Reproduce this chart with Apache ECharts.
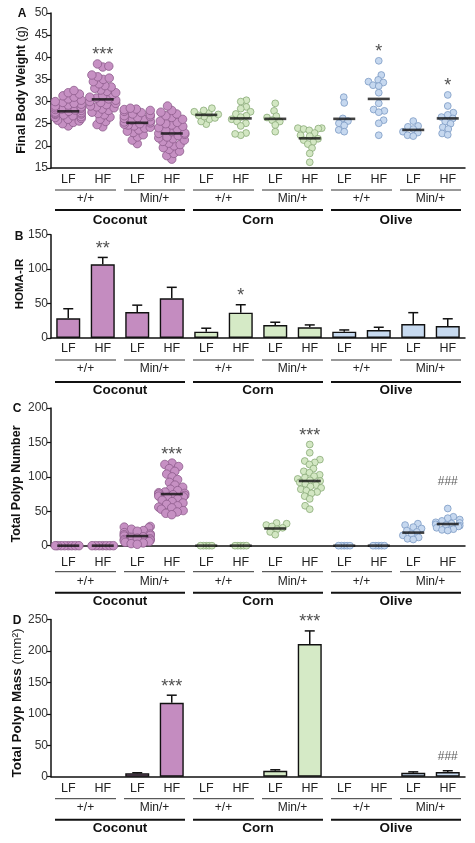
<!DOCTYPE html>
<html><head><meta charset="utf-8">
<script src="https://cdn.jsdelivr.net/npm/echarts@6/dist/echarts.min.js"></script>
<style>html,body{margin:0;padding:0;background:#fff}#c{width:475px;height:843px}</style>
</head><body><div id="c"></div>
<script>
// ---------- categories ----------
const groupCats = ['LF','HF','LF','HF','LF','HF','LF','HF','LF','HF','LF','HF'];
const genotypes = ['+/+','Min/+','+/+','Min/+','+/+','Min/+'];
const diets = ['Coconut','Corn','Olive'];

// ---------- Panel A: Final Body Weight (g), individual mice ----------
const bwCoconutWtLF = [24.5,25.0,25.3,25.6,25.8,26.0,26.2,26.4,26.6,26.8,27.0,27.1,27.2,27.3,27.5,27.6,27.8,28.0,28.1,28.2,28.3,28.5,28.6,28.8,29.0,29.2,29.4,29.6,29.8,30.0,30.3,30.6,31.0,31.3,31.7,32.0,32.5];
const bwCoconutWtHF = [24.3,24.8,25.5,26.0,26.5,27.0,27.3,27.6,28.0,28.3,28.6,28.8,29.0,29.3,29.6,29.8,30.0,30.3,30.6,30.8,31.0,31.3,31.6,32.0,32.3,32.6,33.0,33.3,33.6,34.0,34.5,35.0,35.3,35.6,36.0,37.8,38.0,38.5];
const bwCoconutMinLF = [20.5,21.3,22.0,22.5,23.0,23.3,23.6,24.0,24.2,24.5,24.7,24.9,25.0,25.2,25.4,25.6,25.8,26.0,26.2,26.4,26.6,26.8,27.0,27.2,27.5,27.8,28.0,28.2,28.3,28.5];
const bwCoconutMinHF = [17.0,17.8,18.3,18.8,19.2,19.6,20.0,20.3,20.6,21.0,21.3,21.6,21.8,22.0,22.3,22.6,22.8,22.9,23.2,23.5,23.8,24.1,24.4,24.7,25.0,25.3,25.6,26.0,26.4,26.8,27.2,27.6,28.0,29.0];
const bwCornWtLF = [24.9,25.5,26.0,26.3,26.6,26.9,27.1,27.4,27.7,28.0,28.5];
const bwCornWtHF = [30.3,30.0,28.8,28.4,27.7,27.2,26.8,26.5,26.0,25.5,25.1,24.5,22.9,22.4,22.7];
const bwCornMinLF = [29.6,27.9,26.7,26.4,25.8,25.5,24.7,23.2];
const bwCornMinHF = [24.0,24.0,23.8,23.9,23.5,22.9,22.4,22.2,21.6,21.3,20.9,20.4,19.5,18.3,16.3];
const bwOliveWtLF = [31.0,29.7,26.2,25.6,25.1,24.6,23.6,23.2];
const bwOliveWtHF = [39.2,36.0,34.9,34.5,34.3,33.7,33.5,32.0,29.6,28.2,27.9,27.6,25.8,25.1,22.4];
const bwOliveMinLF = [25.6,24.5,24.3,23.8,23.2,23.0,22.4,22.2];
const bwOliveMinHF = [31.5,29.0,27.5,27.0,26.5,26.2,25.5,25.0,24.2,23.8,22.8,22.5];
const bwMeans = [27.8,30.5,25.2,22.8,27.0,26.2,26.1,21.7,26.1,30.6,23.6,26.2];
const bwAxis = [15, 50, 5];

// ---------- Panel B: HOMA-IR (mean, SEM) ----------
const homaMean = [28.5,107,37.7,57.6,9.2,36.8,18.9,15.5,9.2,11.6,20.3,17.4];
const homaSem  = [14,10,10,16,5,11.5,4,3.5,2.5,4,16.5,10.5];
const homaAxis = [0, 150, 50];

// ---------- Panel C: Total Polyp Number, individual mice ----------
const pnCoconutWtLF = [0,0,0,0,0,0,0,0];
const pnCoconutWtHF = [0,0,0,0,0,0,0];
const pnCoconutMinLF = [28,27,26,24,22,21,19,17,16,15,14,13,12,11,10,9,8,7,6,5,4,3,2];
const pnCoconutMinHF = [120,118,115,112,108,104,100,96,92,88,85,82,80,78,77,76,75,74,73,72,71,70,68,66,64,62,60,58,56,55,53,51,49,47,45];
const pnCornWtLF = [0,0,0,0,0];
const pnCornWtHF = [0,0,0,0,0];
const pnCornMinLF = [33,32,30,28,26,24,20,16];
const pnCornMinHF = [147,135,125,123,121,118,112,108,106,103,101,99,97,95,94,92,90,88,86,84,82,80,78,76,72,68,58,53];
const pnOliveWtLF = [0,0,0,0,0];
const pnOliveWtHF = [0,0,0,0,0];
const pnOliveMinLF = [32,30,27,25,22,20,17,15,12,10,9];
const pnOliveMinHF = [54,42,40,38,36,34,33,32,31,30,29,28,26,24,23,22];
const pnMeans = [0,0,14,75,0,0,25,94,0,0,19,31.5];
const pnAxis = [0, 200, 50];

// ---------- Panel D: Total Polyp Mass (mm²) (mean, SEM) ----------
const pmMean = [0,0,5.5,117.7,0,0,9.5,211,0,0,6.2,7.5];
const pmSem  = [0,0,0.8,12,0,0,1.5,21,0,0,1.5,2];
const pmAxis = [0, 250, 50];

// ---------- significance marks ----------
const bwMarks = [[1,'***'],[9,'*'],[11,'*']];
const homaMarks = [[1,'**'],[5,'*']];
const pnMarks = [[3,'***'],[7,'***'],[11,'###']];
const pmMarks = [[3,'***'],[7,'***'],[11,'###']];

// ---------- styling ----------
const FONT = '"Liberation Sans", Arial, sans-serif';
const fills = ['#c690c3','#d3e7c3','#c6d8ef'];
const strokes = ['#8d5c8b','#8aab78','#7c9ac4'];
const barFills = ['#c48cc0','#d5eac6','#c7daf0'];
const GRID_LEFT = 51, GRID_W = 414;

const panels = [
  {letter:'A', lx:22, ly:14, top:13, bottom:168, axis:bwAxis, kind:'dots', groups:[bwCoconutWtLF,bwCoconutWtHF,bwCoconutMinLF,bwCoconutMinHF,bwCornWtLF,bwCornWtHF,bwCornMinLF,bwCornMinHF,bwOliveWtLF,bwOliveWtHF,bwOliveMinLF,bwOliveMinHF], means:bwMeans, marks:bwMarks,
   title:'{b|Final Body Weight }{n|(g)}', tx:22, ty:90, tfs:12.5, lm:5.5, gm:24.5, dm:45, gl:22, dl:42},
  {letter:'B', lx:19, ly:237, top:234.7, bottom:338, axis:homaAxis, kind:'bars', means:homaMean, sems:homaSem, marks:homaMarks,
   title:'{b|HOMA-IR}', tx:20, ty:284, tfs:11.5, lm:4.5, gm:24.5, dm:45, gl:22, dl:44},
  {letter:'C', lx:17, ly:409, top:408, bottom:545.7, axis:pnAxis, kind:'dots', groups:[pnCoconutWtLF,pnCoconutWtHF,pnCoconutMinLF,pnCoconutMinHF,pnCornWtLF,pnCornWtHF,pnCornMinLF,pnCornMinHF,pnOliveWtLF,pnOliveWtHF,pnOliveMinLF,pnOliveMinHF], means:pnMeans, marks:pnMarks,
   title:'{b|Total Polyp Number}', tx:17, ty:484, tfs:12.5, lm:10.5, gm:29.5, dm:49, gl:26, dl:47},
  {letter:'D', lx:17, ly:621, top:619.6, bottom:776.7, axis:pmAxis, kind:'bars', means:pmMean, sems:pmSem, marks:pmMarks,
   title:'{b|Total Polyp Mass }{n|(mm²)}', tx:17, ty:703, tfs:13.5, lm:5, gm:24.5, dm:45, gl:22, dl:43}
];

// beeswarm offsets (pixels) computed from values and the axis pixel scale
function swarm(values, pxPerUnit, D, maxHalf) {
  const idx = values.map((v,i)=>i).sort((a,b)=>values[a]-values[b]);
  const placed = []; const out = new Array(values.length);
  idx.forEach(i => {
    const y = values[i]*pxPerUnit;
    const cands = [0];
    placed.forEach(p => { const dy = y-p.y; if (Math.abs(dy) < D) { const dx = Math.sqrt(D*D-dy*dy); cands.push(p.x+dx, p.x-dx); } });
    let best = null;
    cands.sort((a,b)=>Math.abs(a)-Math.abs(b) || (placed.length%2 ? a-b : b-a));
    for (const x of cands) {
      if (placed.every(p => (x-p.x)*(x-p.x)+(y-p.y)*(y-p.y) >= D*D-0.01)) { best = x; break; }
    }
    if (best === null) best = 0;
    best = Math.max(-maxHalf, Math.min(maxHalf, best));
    placed.push({x:best, y:y}); out[i] = best;
  });
  return out;
}

const grid = [], xAxis = [], yAxis = [], series = [];
panels.forEach((p, pi) => {
  const h = p.bottom - p.top;
  grid.push({left:GRID_LEFT, width:GRID_W, top:p.top, height:h});
  xAxis.push({type:'category', gridIndex:pi, data:groupCats, position:'bottom',
    axisLine:{lineStyle:{color:'#111', width:1.5}},
    axisTick:{alignWithLabel:true, length:4, lineStyle:{color:'#111', width:1.2}},
    axisLabel:{margin:p.lm, fontSize:12.5, color:'#222', fontFamily:FONT, interval:0},
    splitLine:{show:false}});
  xAxis.push({type:'category', gridIndex:pi, data:genotypes, position:'bottom',
    axisLine:{show:false}, axisTick:{show:false},
    axisLabel:{margin:p.gm, fontSize:12, color:'#222', fontFamily:FONT, interval:0}});
  xAxis.push({type:'category', gridIndex:pi, data:diets, position:'bottom',
    axisLine:{show:false}, axisTick:{show:false},
    axisLabel:{margin:p.dm, fontSize:13.5, fontWeight:'bold', color:'#111', fontFamily:FONT, interval:0}});
  yAxis.push({type:'value', gridIndex:pi, min:p.axis[0], max:p.axis[1], interval:p.axis[2],
    axisLine:{show:true, lineStyle:{color:'#111', width:1.5}},
    axisTick:{show:true, length:4, lineStyle:{color:'#111', width:1.2}},
    axisLabel:{fontSize:12, color:'#333', fontFamily:FONT, margin:3},
    splitLine:{show:false}});
  const xi = pi*3;
  const pxPerUnit = h/(p.axis[1]-p.axis[0]);
  const tops = new Array(12).fill(0);
  if (p.kind === 'dots') {
    p.groups.forEach((vals, g) => {
      const d = Math.floor(g/4);
      const size = d === 0 ? 8.5 : 6.8;
      const allZero = vals.every(v => v === 0);
      const fac = allZero ? 0.42 : (d === 0 ? 0.72 : 0.85);
      const offs = swarm(vals, pxPerUnit, size*fac, d === 0 ? 13 : 12);
      tops[g] = Math.max.apply(null, vals);
      series.push({type:'scatter', xAxisIndex:xi, yAxisIndex:pi, symbol:'circle', symbolSize:size, z:2,
        itemStyle:{color:fills[d], borderColor:strokes[d], borderWidth:0.8, opacity:1},
        emphasis:{disabled:true}, silent:true,
        data: vals.map((v,k)=>({value:[g, v], symbolOffset:[offs[k],0]}))});
    });
    series.push({type:'scatter', xAxisIndex:xi, yAxisIndex:pi, symbol:'rect', symbolSize:[22,2.6], z:4, silent:true,
      itemStyle:{color:'#111'}, data:p.means.map((m,g)=>[g,m])});
  } else {
    series.push({type:'bar', xAxisIndex:xi, yAxisIndex:pi, barWidth:24, z:2, silent:true,
      data:p.means.map((m,g)=>({value: m, itemStyle:{color:barFills[Math.floor(g/4)], borderColor:'#111', borderWidth: m>0 ? 1.4 : 0}}))});
    series.push({type:'custom', xAxisIndex:xi, yAxisIndex:pi, z:3, silent:true,
      data:p.means.map((m,g)=>[g, m, p.sems[g]]),
      encode:{x:0, y:1},
      renderItem:(params, api) => {
        const cat = api.value(0), m = api.value(1), e = api.value(2);
        if (!e) return null;
        const p0 = api.coord([cat, m]), p1 = api.coord([cat, m+e]);
        return {type:'group', children:[
          {type:'line', shape:{x1:p0[0], y1:p0[1], x2:p1[0], y2:p1[1]}, style:{stroke:'#111', lineWidth:1.5}},
          {type:'line', shape:{x1:p1[0]-5, y1:p1[1], x2:p1[0]+5, y2:p1[1]}, style:{stroke:'#111', lineWidth:1.5}}
        ]};
      }});
    p.means.forEach((m,g)=>{ tops[g] = m + p.sems[g]; });
  }
  // significance marks
  series.push({type:'scatter', xAxisIndex:xi, yAxisIndex:pi, symbol:'circle', symbolSize:1, z:5, silent:true,
    itemStyle:{color:'rgba(0,0,0,0)'},
    data:p.marks.map(([g,t]) => ({value:[g, tops[g]], label:{show:true, position:'top',
      formatter:t, distance: t === '###' ? (pi === 2 ? 20 : 8) : -1,
      fontSize: t === '###' ? 12 : 18, color: t === '###' ? '#333' : '#222', fontFamily:FONT}}))});
});

const chart = echarts.init(document.getElementById('c'));
chart.setOption({animation:false, backgroundColor:'#fff', grid, xAxis, yAxis, series});

// group underlines, axis titles and panel letters
const graphics = [];
panels.forEach((p, pi) => {
  const xi = pi*3;
  const c0 = chart.convertToPixel({xAxisIndex:xi}, 0);
  const c1 = chart.convertToPixel({xAxisIndex:xi}, 1);
  const band = c1 - c0;
  for (let k = 0; k < 6; k++) {
    const a = chart.convertToPixel({xAxisIndex:xi}, 2*k) - band/2 + 4;
    const b = chart.convertToPixel({xAxisIndex:xi}, 2*k+1) + band/2 - 4;
    graphics.push({type:'line', shape:{x1:a, y1:p.bottom+p.gl, x2:b, y2:p.bottom+p.gl}, style:{stroke:'#333', lineWidth:1}, silent:true});
  }
  for (let d = 0; d < 3; d++) {
    const a = chart.convertToPixel({xAxisIndex:xi}, 4*d) - band/2 + 4;
    const b = chart.convertToPixel({xAxisIndex:xi}, 4*d+3) + band/2 - 4;
    graphics.push({type:'line', shape:{x1:a, y1:p.bottom+p.dl, x2:b, y2:p.bottom+p.dl}, style:{stroke:'#111', lineWidth:2}, silent:true});
  }
  graphics.push({type:'text', x:p.tx, y:p.ty, rotation:Math.PI/2, silent:true,
    style:{text:p.title, fontFamily:FONT, fill:'#111', align:'center', verticalAlign:'middle',
      rich:{b:{fontWeight:'bold', fontSize:p.tfs, fontFamily:FONT, fill:'#111'},
            n:{fontWeight:'normal', fontSize:p.tfs, fontFamily:FONT, fill:'#111'}}}});
  graphics.push({type:'text', x:p.lx, y:p.ly, silent:true,
    style:{text:p.letter, fontSize:12, fontWeight:'bold', fontFamily:FONT, fill:'#111', align:'center', verticalAlign:'middle'}});
});
chart.setOption({graphic:graphics});
</script>
</body></html>
